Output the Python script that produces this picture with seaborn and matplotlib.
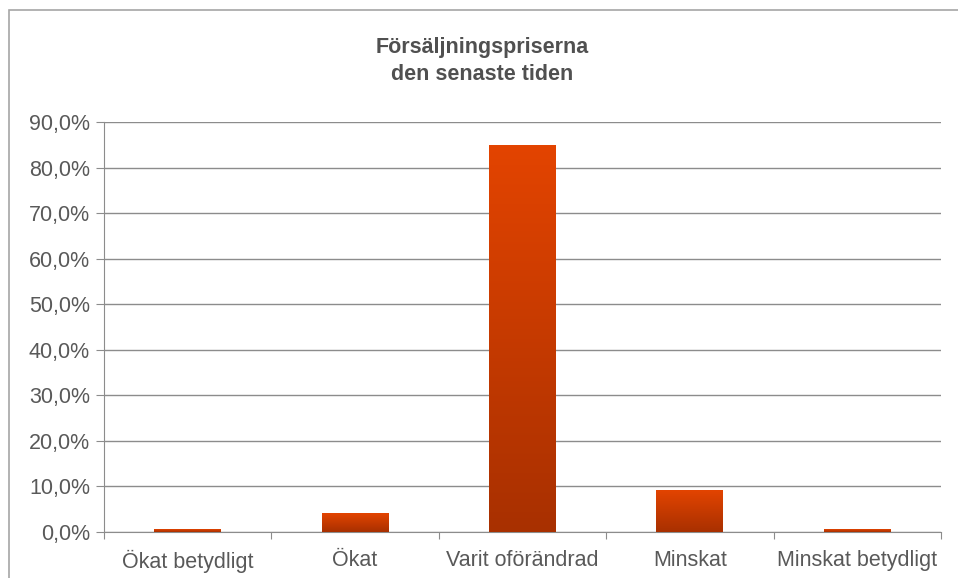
import seaborn as sns
import pandas as pd
import matplotlib.pyplot as plt
import numpy as np
from matplotlib.patches import Rectangle
from matplotlib.colors import LinearSegmentedColormap
from matplotlib.ticker import MultipleLocator, FuncFormatter

sns.set_style('white')
plt.rcParams['font.family'] = ['Liberation Sans', 'DejaVu Sans']

categories = ['Ökat betydligt', 'Ökat', 'Varit oförändrad', 'Minskat', 'Minskat betydligt']
shares = [0.5, 4.1, 84.9, 9.1, 0.5]

df = pd.DataFrame({'kategori': categories, 'andel': shares})

fig = plt.figure(figsize=(9.58, 5.78), dpi=100)
ax = fig.add_axes([104 / 958, 1 - 532 / 578, 837 / 958, 410 / 578])

# frame around the whole chart
fig.patches.append(Rectangle((8.5 / 958, -0.05), 1.2, 1 - 9.5 / 578 + 0.05,
                             transform=fig.transFigure, fill=False,
                             edgecolor='#a6a6a6', linewidth=1.2))

sns.barplot(data=df, x='kategori', y='andel', ax=ax, width=0.4,
            color='#d94000', saturation=1, zorder=3)

# vertical gradient inside each bar
cmap = LinearSegmentedColormap.from_list('orange', ['#a83000', '#e34400'])
grad = np.linspace(0, 1, 256).reshape(-1, 1)
for p in ax.patches:
    x0, y0 = p.get_x(), p.get_y()
    w, h = p.get_width(), p.get_height()
    ax.imshow(grad, cmap=cmap, origin='lower', aspect='auto',
              extent=(x0, x0 + w, y0, y0 + h), zorder=4)
    p.set_alpha(0)

ax.set_xlim(-0.5, 4.5)
ax.set_ylim(0, 90)
ax.yaxis.set_major_locator(MultipleLocator(10))
ax.yaxis.set_major_formatter(FuncFormatter(lambda v, _: f'{v:.1f}%'.replace('.', ',')))
ax.grid(axis='y', color='#8c8c8c', linewidth=1, zorder=0)
ax.set_axisbelow(True)

for s in ['top', 'right']:
    ax.spines[s].set_visible(False)
ax.spines['left'].set_color('#8c8c8c')
ax.spines['bottom'].set_color('#8c8c8c')

ax.set_xticks(np.arange(-0.5, 5, 1), minor=False)
ax.set_xticklabels([])
ax.set_xticks(np.arange(5), minor=True)
ax.set_xticklabels(categories, minor=True)
ax.tick_params(axis='x', which='major', length=5, color='#8c8c8c', direction='out', bottom=True)
ax.tick_params(axis='x', which='minor', length=0, labelsize=15.5, labelcolor='#595959', pad=13)
ax.tick_params(axis='y', length=6, color='#8c8c8c', direction='out', left=True,
               labelsize=15.5, labelcolor='#595959', pad=4)
ax.set_xlabel('')
ax.set_ylabel('')

fig.text(482 / 958, 1 - 48 / 578, 'Försäljningspriserna', ha='center', va='center',
         fontsize=15.5, fontweight='bold', color='#505050')
fig.text(482 / 958, 1 - 75 / 578, 'den senaste tiden', ha='center', va='center',
         fontsize=15.5, fontweight='bold', color='#505050')

fig.savefig('out.png', dpi=100)
